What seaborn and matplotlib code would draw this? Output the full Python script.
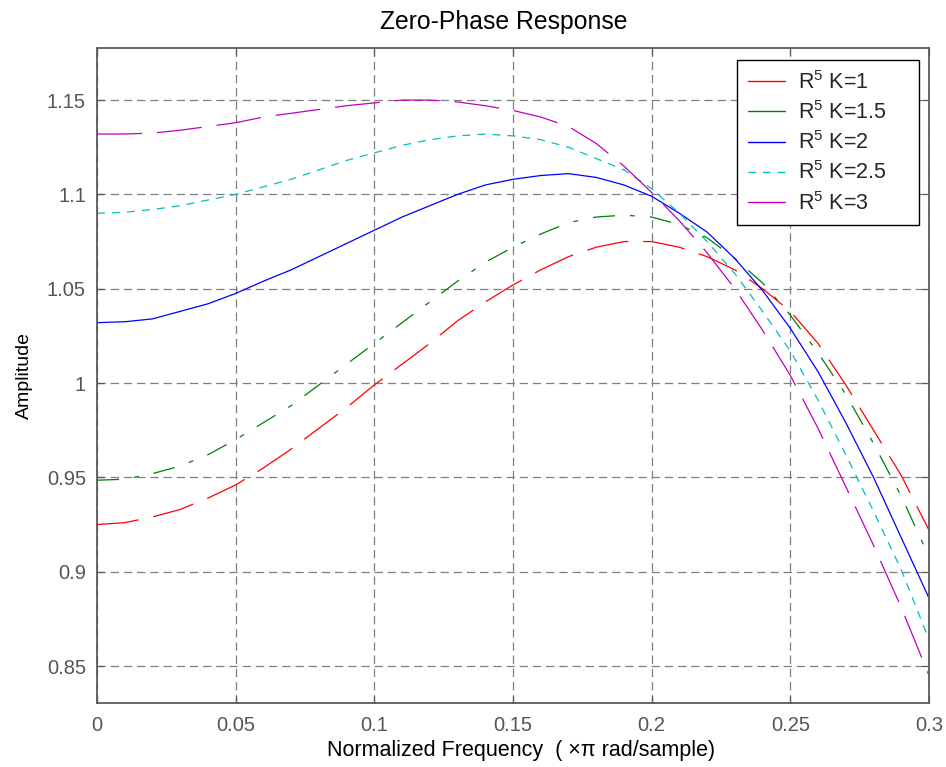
import numpy as np
import pandas as pd
import matplotlib
matplotlib.use("Agg")
import matplotlib.pyplot as plt
from matplotlib.lines import Line2D
import seaborn as sns

# ---------------- data ----------------
freq = [0.00, 0.01, 0.02, 0.03, 0.04, 0.05, 0.06, 0.07, 0.08, 0.09,
        0.10, 0.11, 0.12, 0.13, 0.14, 0.15, 0.16, 0.17, 0.18, 0.19,
        0.20, 0.21, 0.22, 0.23, 0.24, 0.25, 0.26, 0.27, 0.28, 0.29, 0.30]

amp_k1 = [0.925, 0.926, 0.929, 0.933, 0.939, 0.946, 0.955, 0.965, 0.976, 0.987,
          0.999, 1.010, 1.021, 1.033, 1.043, 1.052, 1.060, 1.067, 1.072, 1.075,
          1.075, 1.072, 1.067, 1.060, 1.050, 1.038, 1.021, 0.999, 0.975, 0.951, 0.922]

amp_k15 = [0.9485, 0.949, 0.952, 0.956, 0.962, 0.970, 0.979, 0.988, 0.999, 1.010,
           1.021, 1.032, 1.043, 1.054, 1.064, 1.072, 1.079, 1.085, 1.088, 1.089,
           1.088, 1.084, 1.077, 1.066, 1.053, 1.036, 1.016, 0.994, 0.968, 0.940, 0.908]

amp_k2 = [1.032, 1.0325, 1.034, 1.038, 1.042, 1.0475, 1.054, 1.060, 1.067, 1.074,
          1.081, 1.088, 1.094, 1.100, 1.105, 1.108, 1.110, 1.111, 1.109, 1.105,
          1.099, 1.090, 1.080, 1.066, 1.049, 1.029, 1.006, 0.979, 0.950, 0.918, 0.886]

amp_k25 = [1.090, 1.0905, 1.092, 1.094, 1.097, 1.100, 1.104, 1.108, 1.113, 1.118,
           1.122, 1.126, 1.129, 1.131, 1.132, 1.131, 1.129, 1.125, 1.119, 1.113,
           1.103, 1.090, 1.075, 1.058, 1.038, 1.017, 0.991, 0.962, 0.932, 0.901, 0.864]

amp_k3 = [1.132, 1.132, 1.1325, 1.134, 1.136, 1.138, 1.141, 1.143, 1.145, 1.147,
          1.1485, 1.150, 1.150, 1.149, 1.147, 1.1445, 1.141, 1.136, 1.127, 1.115,
          1.101, 1.086, 1.069, 1.050, 1.028, 1.004, 0.976, 0.945, 0.914, 0.881, 0.845]

series_labels = ["R$^5$ K=1", "R$^5$ K=1.5", "R$^5$ K=2", "R$^5$ K=2.5", "R$^5$ K=3"]
series_values = [amp_k1, amp_k15, amp_k2, amp_k25, amp_k3]

x_ticks = [0, 0.05, 0.1, 0.15, 0.2, 0.25, 0.3]
x_tick_labels = ["0", "0.05", "0.1", "0.15", "0.2", "0.25", "0.3"]
y_ticks = [0.85, 0.9, 0.95, 1.0, 1.05, 1.1, 1.15]
y_tick_labels = ["0.85", "0.9", "0.95", "1", "1.05", "1.1", "1.15"]

# ---------------- styling ----------------
colors = ["#ff0000", "#008000", "#0000ff", "#00bfbf", "#bf00bf"]
px = 0.72  # points per pixel at dpi 100
plot_dashes = [(42 * px, 15 * px), (22 * px, 15 * px, 5 * px, 15 * px), "",
               (8 * px, 7 * px), (45 * px, 15 * px)]
legend_styles = ["-", "-", "-", (0, (5.5, 5)), "-"]

sns.set_theme(style="ticks")
plt.rcParams["font.family"] = ["Liberation Sans", "DejaVu Sans"]
plt.rcParams["mathtext.default"] = "regular"
plt.rcParams["lines.scale_dashes"] = False

df = pd.concat(
    [pd.DataFrame({"freq": freq, "amp": vals, "series": lab})
     for lab, vals in zip(series_labels, series_values)],
    ignore_index=True)

fig = plt.figure(figsize=(9.46, 7.67), dpi=100)
ax = fig.add_axes([0.10254, 0.08344, 0.87949, 0.85398])

sns.lineplot(data=df, x="freq", y="amp", hue="series", style="series",
             hue_order=series_labels, style_order=series_labels,
             palette=dict(zip(series_labels, colors)),
             dashes=dict(zip(series_labels, plot_dashes)),
             estimator=None, sort=True, linewidth=0.9, legend=False, ax=ax)

ax.set_xlim(0, 0.3)
ax.set_ylim(0.8304, 1.1776)
ax.set_xticks(x_ticks)
ax.set_xticklabels(x_tick_labels)
ax.set_yticks(y_ticks)
ax.set_yticklabels(y_tick_labels)

ax.grid(True, color="#7f7f7f", linestyle=(0, (6, 3.5)), linewidth=0.9)
ax.set_axisbelow(True)

for s in ax.spines.values():
    s.set_visible(True)
    s.set_color("#5a5a5a")
    s.set_linewidth(1.3)

ax.tick_params(axis="both", which="both", direction="in", length=5, width=0.9,
               color="#5a5a5a", labelcolor="#555555", labelsize=14.5,
               top=True, right=True)
ax.tick_params(axis="x", pad=9)
ax.tick_params(axis="y", pad=8)

ax.set_title("Zero-Phase Response", fontsize=17.8, color="black", pad=14, x=0.4886)
ax.set_xlabel("Normalized Frequency  ( \u00d7\u03c0 rad/sample)", fontsize=15.5,
              color="black", labelpad=4, x=0.5096)
ax.set_ylabel("Amplitude", fontsize=14, color="black", labelpad=10)

handles = [Line2D([0], [0], color=c, linestyle=ls, linewidth=1.0)
           for c, ls in zip(colors, legend_styles)]
# legend box spans px 737..919 horizontally, 60..222 vertically
leg = ax.legend(handles, series_labels, loc="upper left",
                bbox_to_anchor=(0.7692, 0.7344, 0.2188, 0.2473), mode="expand",
                fontsize=15.5, frameon=True,
                fancybox=False, framealpha=1, edgecolor="black",
                handlelength=1.75, handletextpad=0.6, labelspacing=0.34,
                borderpad=0.5, borderaxespad=0)
leg.get_frame().set_linewidth(1.0)

fig.savefig("out.png", dpi=100)
